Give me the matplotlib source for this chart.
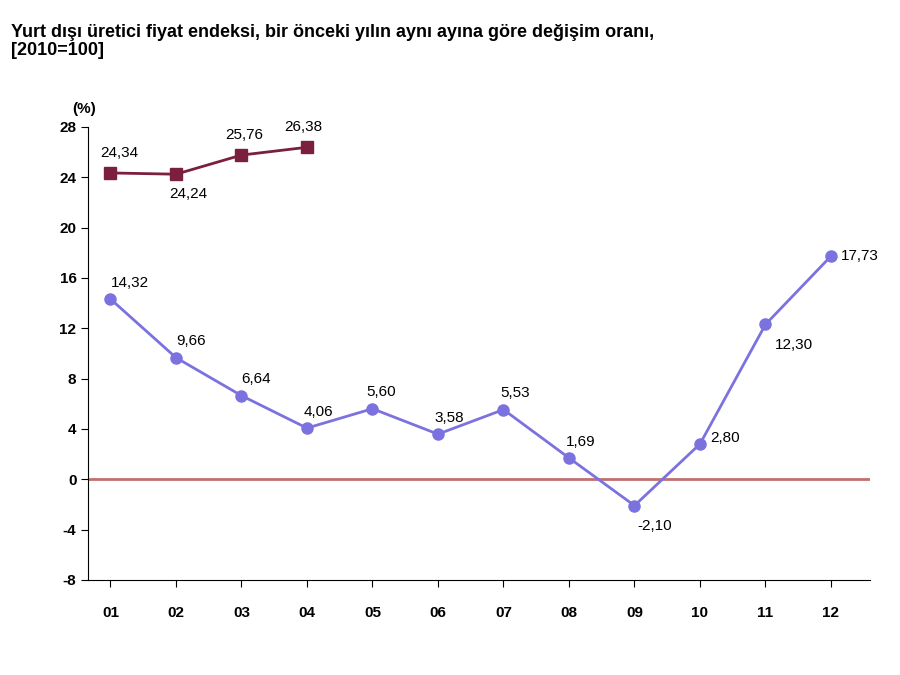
import matplotlib
matplotlib.use("Agg")
import matplotlib.pyplot as plt

months = ["01","02","03","04","05","06","07","08","09","10","11","12"]
s_prev = [14.32, 9.66, 6.64, 4.06, 5.60, 3.58, 5.53, 1.69, -2.10, 2.80, 12.30, 17.73]
s_cur = [24.34, 24.24, 25.76, 26.38]
yticks = [-8, -4, 0, 4, 8, 12, 16, 20, 24, 28]

plt.rcParams['font.family'] = ['Liberation Sans', 'DejaVu Sans']
plt.rcParams['axes.unicode_minus'] = False
fig = plt.figure(figsize=(9, 6.75), dpi=100)
ax = fig.add_axes([0.098, 0.141, 0.869, 0.671])
x = list(range(1, 13))
ax.axhline(0, color="#c07070", lw=2, zorder=1)
ax.plot(x, s_prev, color="#7b72e0", lw=2, marker="o", ms=8, zorder=3)
ax.plot(x[:4], s_cur, color="#7a1f3d", lw=2, marker="s", ms=8, zorder=3)

def fmt(v):
    return f"{v:.2f}".replace(".", ",")

offs_prev = [(0, 1.3, 'left'), (0, 1.3, 'left'), (0, 1.3, 'left'), (-0.05, 1.3, 'left'),
             (-0.1, 1.3, 'left'), (-0.05, 1.3, 'left'), (-0.05, 1.3, 'left'), (-0.05, 1.3, 'left'),
             (0.05, -1.6, 'left'), (0.15, 0.5, 'left'), (0.15, -1.6, 'left'), (0.15, 0, 'left')]
for xi, v, (dx, dy, ha) in zip(x, s_prev, offs_prev):
    ax.text(xi + dx, v + dy, fmt(v), fontsize=11, ha=ha, va="center")
offs_cur = [(-0.15, 1.6), (-0.1, -1.6), (-0.25, 1.6), (-0.35, 1.6)]
for xi, v, (dx, dy) in zip(x, s_cur, offs_cur):
    ax.text(xi + dx, v + dy, fmt(v), fontsize=11, ha="left", va="center")

ax.set_xlim(0.66, 12.6)
ax.set_ylim(-8, 28)
ax.set_yticks(yticks)
ax.set_xticks(x)
ax.set_xticklabels(months, fontsize=11, fontweight="bold")
ax.tick_params(axis="y", labelsize=11, direction="out", length=5)
ax.tick_params(axis="x", length=5, direction="out", pad=14)
for t in ax.get_yticklabels():
    t.set_fontweight("bold")
ax.spines["top"].set_visible(False)
ax.spines["right"].set_visible(False)
ax.text(-0.02, 1.03, "(%)", transform=ax.transAxes, fontsize=11, fontweight="bold")
fig.text(0.012, 0.965, "Yurt dışı üretici fiyat endeksi, bir önceki yılın aynı ayına göre değişim oranı,\n[2010=100]",
         fontsize=13, fontweight="bold", va="top", ha="left", linespacing=1.1)
fig.savefig("out.png", dpi=100)
